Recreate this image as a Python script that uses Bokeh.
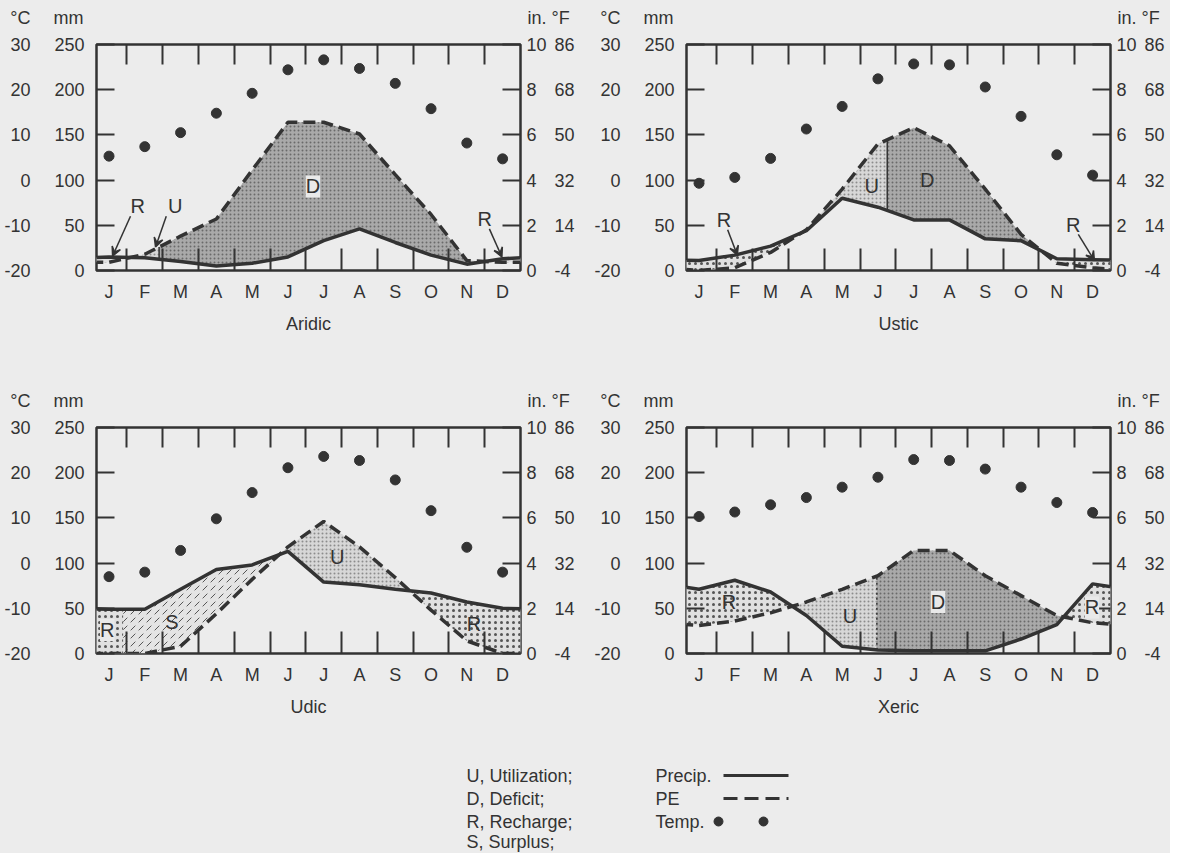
import numpy as np
from bokeh.plotting import figure
from bokeh.models import (Range1d, LinearAxis, FixedTicker, CustomJSTickFormatter,
                          Label, Arrow, VeeHead)
from bokeh.layouts import column, row
from bokeh.embed import file_html
from bokeh.resources import INLINE
from bokeh.core.properties import value

# ---------------- data ----------------
MONTHS = ["J", "F", "M", "A", "M", "J", "J", "A", "S", "O", "N", "D"]
MM_TICKS = [0, 50, 100, 150, 200, 250]
C_TICKS = [-20, -10, 0, 10, 20, 30]
IN_TICKS = [0, 2, 4, 6, 8, 10]
F_TICKS = [-4, 14, 32, 50, 68, 86]
UNIT_HEADERS = ["°C", "mm", "in.", "°F"]

ARIDIC_PRECIP = [15, 14, 10, 5, 8, 15, 33, 46, 31, 17, 7, 13]
ARIDIC_PE = [9, 18, 38, 57, 111, 164, 164, 151, 106, 62, 11, 9]
ARIDIC_TEMP = [5.3, 7.4, 10.5, 14.8, 19.2, 24.4, 26.6, 24.7, 21.4, 15.8, 8.2, 4.7]

USTIC_PRECIP = [11, 17, 27, 44, 80, 70, 56, 56, 35, 33, 13, 12]
USTIC_PE = [0, 3, 20, 45, 90, 140, 158, 138, 90, 40, 8, 3]
USTIC_TEMP = [-0.7, 0.6, 4.8, 11.3, 16.3, 22.4, 25.7, 25.5, 20.6, 14.1, 5.6, 1.1]

UDIC_PRECIP = [49, 49, 71, 93, 98, 113, 79, 76, 71, 67, 57, 50]
UDIC_PE = [0, 0, 8, 44, 82, 118, 146, 118, 84, 48, 14, 0]
UDIC_TEMP = [-3.0, -2.0, 2.8, 9.8, 15.6, 21.1, 23.6, 22.7, 18.4, 11.6, 3.5, -2.0]

XERIC_PRECIP = [71, 81, 68, 42, 8, 4, 3, 3, 3, 16, 32, 77]
XERIC_PE = [31, 36, 45, 57, 71, 86, 114, 114, 86, 64, 42, 34]
XERIC_TEMP = [10.3, 11.3, 12.9, 14.5, 16.8, 19.0, 22.9, 22.7, 20.8, 16.8, 13.4, 11.2]

# soil-moisture regions: (kind, start, end); "cN" = N-th crossing of precip/PE
ARIDIC_REGIONS = [("R", None, "c0"), ("U", "c0", 1.9), ("D", 1.9, "c1"), ("R", "c1", None)]
USTIC_REGIONS = [("R", None, "c0"), ("U", "c0", 5.76), ("D", 5.76, "c1"), ("R", "c1", None)]
UDIC_REGIONS = [("R", None, 0.9), ("S", 0.9, "c0"), ("U", "c0", "c1"), ("R", "c1", None)]
XERIC_REGIONS = [("R", None, "c0"), ("U", "c0", 5.47), ("D", 5.47, "c1"), ("R", "c1", None)]

LEGEND_LEFT = ["U, Utilization;", "D, Deficit;", "R, Recharge;", "S, Surplus;"]
LEGEND_RIGHT = ["Precip.", "PE", "Temp."]

# ---------------- style / layout ----------------
INK = "#333333"
BG = "#ececec"
FONT = "Liberation Sans"
FS = "18px"
X0, X1 = 0.15, 12.0
FRAME_W, FRAME_H = 424, 226
BORDER_L = 96
BORDER_TOP = 12
W_LEFT, W_RIGHT = 590, 580
HEADER_H = 32
TOP_ROW_H = 351
BOT_ROW_H = 314
LEGEND_H = 124

STYLES = {
    "D": dict(fill_color="#a9a9a9", hatch_pattern="dot", hatch_color="#6a6a6a", hatch_scale=4, hatch_weight=1),
    "U": dict(fill_color="#d7d7d7", hatch_pattern="dot", hatch_color="#8c8c8c", hatch_scale=4, hatch_weight=1),
    "R": dict(fill_color="#e0e0e0", hatch_pattern="dot", hatch_color="#555555", hatch_scale=6, hatch_weight=1),
    "S": dict(fill_color="#e4e4e4", hatch_pattern="right_diagonal_dash", hatch_color="#555555", hatch_scale=8, hatch_weight=1),
}

centers = np.arange(12) + 0.5
boundaries = list(np.arange(1, 12).astype(float))
xs_ext = np.array([-0.5] + list(centers) + [12.5])


def extend(v):
    return np.array([v[-1]] + list(v) + [v[0]], dtype=float)


def crossings(p, e):
    d = p - e
    out = []
    for i in range(len(d) - 1):
        if d[i] * d[i + 1] < 0:
            out.append(xs_ext[i] + (xs_ext[i + 1] - xs_ext[i]) * d[i] / (d[i] - d[i + 1]))
    return out


def style_y_axis(ax, ticks, tick_in, standoff):
    ax.ticker = FixedTicker(ticks=ticks)
    ax.formatter = CustomJSTickFormatter(code="return tick.toString();")
    ax.major_tick_in = tick_in
    ax.major_tick_out = 0
    ax.minor_tick_line_color = None
    ax.axis_line_color = None
    ax.major_tick_line_color = INK
    ax.major_tick_line_width = 2
    ax.major_label_text_font = FONT
    ax.major_label_text_font_size = FS
    ax.major_label_text_color = INK
    ax.major_label_standoff = standoff


def panel(name, precip, pe, temp, regions, texts, arrows, width, height, split_style):
    border_r = width - BORDER_L - FRAME_W
    border_b = height - BORDER_TOP - FRAME_H
    p = figure(width=width, height=height, x_range=Range1d(X0, X1), y_range=Range1d(0, 250),
               output_backend="svg", toolbar_location=None,
               min_border_left=BORDER_L, min_border_right=border_r,
               min_border_top=BORDER_TOP, min_border_bottom=border_b)
    p.background_fill_color = BG
    p.border_fill_color = BG
    p.grid.visible = False
    p.outline_line_color = INK
    p.outline_line_width = 2.5
    p.extra_y_ranges = {"C": Range1d(-20, 30), "in": Range1d(0, 10), "F": Range1d(-4, 86)}

    style_y_axis(p.yaxis[0], MM_TICKS, 18, 12)
    c_ax = LinearAxis(y_range_name="C")
    style_y_axis(c_ax, C_TICKS, 0, 21)
    p.add_layout(c_ax, "left")
    in_ax = LinearAxis(y_range_name="in")
    style_y_axis(in_ax, IN_TICKS, 18, 6)
    p.add_layout(in_ax, "right")
    f_ax = LinearAxis(y_range_name="F")
    style_y_axis(f_ax, F_TICKS, 0, 5)
    p.add_layout(f_ax, "right")

    xa = p.xaxis[0]
    xa.ticker = FixedTicker(ticks=list(centers), minor_ticks=boundaries)
    xa.formatter = CustomJSTickFormatter(args=dict(labels=MONTHS),
                                         code="return labels[Math.round(tick - 0.5)];")
    xa.major_tick_in = 0
    xa.major_tick_out = 0
    xa.major_tick_line_color = None
    xa.minor_tick_in = 22
    xa.minor_tick_out = 0
    xa.minor_tick_line_color = INK
    xa.minor_tick_line_width = 2
    xa.axis_line_color = None
    xa.major_label_text_font = FONT
    xa.major_label_text_font_size = FS
    xa.major_label_text_color = INK
    xa.major_label_standoff = 11
    xa.axis_label = name
    xa.axis_label_text_font = FONT
    xa.axis_label_text_font_size = FS
    xa.axis_label_text_font_style = "normal"
    xa.axis_label_text_color = INK
    xa.axis_label_standoff = 9

    ta = LinearAxis(ticker=FixedTicker(ticks=[], minor_ticks=boundaries))
    ta.minor_tick_in = 20
    ta.minor_tick_out = 0
    ta.minor_tick_line_color = INK
    ta.minor_tick_line_width = 2
    ta.axis_line_color = None
    ta.major_tick_line_color = None
    ta.major_label_text_font_size = "0px"
    ta.major_label_standoff = 0
    p.add_layout(ta, "above")

    P = extend(precip)
    E = extend(pe)
    cr = crossings(P, E)

    def resolve(v, default):
        if v is None:
            return default
        if isinstance(v, str):
            return cr[int(v[1:])]
        return float(v)

    for kind, a, b in regions:
        a = resolve(a, -0.5)
        b = resolve(b, 12.5)
        xx = np.array([a] + [x for x in xs_ext if a < x < b] + [b])
        top = np.interp(xx, xs_ext, P)
        bot = np.interp(xx, xs_ext, E)
        p.patch(list(xx) + list(xx[::-1]), list(top) + list(bot[::-1]), line_color=None, **STYLES[kind])

    for kind, a, b in regions:
        if kind == "D" and not isinstance(a, str) and a is not None:
            ya = float(np.interp(a, xs_ext, P))
            yb = float(np.interp(a, xs_ext, E))
            p.segment(x0=[a], y0=[ya], x1=[a], y1=[yb], line_color=INK,
                      line_width=1.5, line_dash=split_style)

    p.line(xs_ext, E, line_color=INK, line_width=3.5, line_dash="12 6")
    p.line(xs_ext, P, line_color=INK, line_width=3.5)
    p.scatter(centers, temp, y_range_name="C", size=10, color=INK)

    for txt, x, y, boxed in texts:
        kw = dict(background_fill_color="#e9e9e9", background_fill_alpha=1.0) if boxed else {}
        p.add_layout(Label(x=x, y=y, text=txt, text_align="center", text_baseline="middle",
                           text_font=FONT, text_font_size="20px", text_color=INK, **kw))
    for xs_, ys_, xe, ye in arrows:
        p.add_layout(Arrow(x_start=xs_, y_start=ys_, x_end=xe, y_end=ye, line_color=INK,
                           line_width=1.5, end=VeeHead(size=9, line_color=INK, fill_color=INK,
                                                       line_width=1.5)))
    return p


def blank_fig(width, height):
    f = figure(width=width, height=height, x_range=Range1d(0, width), y_range=Range1d(height, 0),
               output_backend="svg", toolbar_location=None, min_border=0,
               x_axis_location=None, y_axis_location=None)
    f.background_fill_color = BG
    f.border_fill_color = BG
    f.outline_line_color = None
    f.grid.visible = False
    return f


def header_fig():
    f = blank_fig(W_LEFT + W_RIGHT, HEADER_H)
    xs, txt, al = [], [], []
    for left in (BORDER_L, W_LEFT + BORDER_L):
        right = left + FRAME_W
        xs += [left - 66, left - 13, right + 7, right + 31]
        txt += UNIT_HEADERS
        al += ["right", "right", "left", "left"]
    f.text(x=xs, y=[17] * len(xs), text=txt, text_align=al, text_baseline="middle",
           text_font=value(FONT), text_font_size=value(FS), text_color=INK)
    return f


p1 = panel("Aridic", ARIDIC_PRECIP, ARIDIC_PE, ARIDIC_TEMP, ARIDIC_REGIONS,
           [("D", 6.2, 93, True), ("R", 1.3, 71, False), ("U", 2.35, 71, False), ("R", 11.0, 57, False)],
           [(1.1, 60, 0.6, 16), (2.1, 60, 1.8, 26), (11.13, 46, 11.48, 15)],
           W_LEFT, TOP_ROW_H, "solid")
p2 = panel("Ustic", USTIC_PRECIP, USTIC_PE, USTIC_TEMP, USTIC_REGIONS,
           [("U", 5.33, 94, False), ("D", 6.88, 100, False), ("R", 1.2, 56, False), ("R", 10.96, 50, False)],
           [(1.3, 45, 1.57, 17), (11.1, 40, 11.55, 11)],
           W_RIGHT, TOP_ROW_H, "solid")
p3 = panel("Udic", UDIC_PRECIP, UDIC_PE, UDIC_TEMP, UDIC_REGIONS,
           [("U", 6.88, 107, False), ("S", 2.26, 35, False), ("R", 0.45, 26, True), ("R", 10.7, 33, False)],
           [], W_LEFT, BOT_ROW_H, "solid")
p4 = panel("Xeric", XERIC_PRECIP, XERIC_PE, XERIC_TEMP, XERIC_REGIONS,
           [("R", 1.34, 57, False), ("U", 4.72, 42, False), ("D", 7.18, 57, True), ("R", 11.48, 51, True)],
           [], W_RIGHT, BOT_ROW_H, "2 3")

# ---------------- legend block ----------------
leg = blank_fig(W_LEFT + W_RIGHT, LEGEND_H)
rows_y = [46, 69, 92, 112]
leg.text(x=[466] * 4, y=rows_y, text=LEGEND_LEFT, text_font=value(FONT), text_font_size=value(FS),
         text_color=INK, text_baseline="middle")
leg.text(x=[655] * 3, y=rows_y[:3], text=LEGEND_RIGHT, text_font=value(FONT), text_font_size=value(FS),
         text_color=INK, text_baseline="middle")
leg.line([723, 788], [rows_y[0], rows_y[0]], line_color=INK, line_width=3)
leg.line([723, 788], [rows_y[1], rows_y[1]], line_color=INK, line_width=3, line_dash="14 7")
leg.scatter([718, 763], [rows_y[2], rows_y[2]], size=9, color=INK)

bg = {"background-color": BG}
p = column(header_fig(), row(p1, p2, spacing=0, styles=bg), header_fig(),
           row(p3, p4, spacing=0, styles=bg), leg, spacing=0, styles=bg)
open("out.html", "w").write(file_html(p, INLINE))
